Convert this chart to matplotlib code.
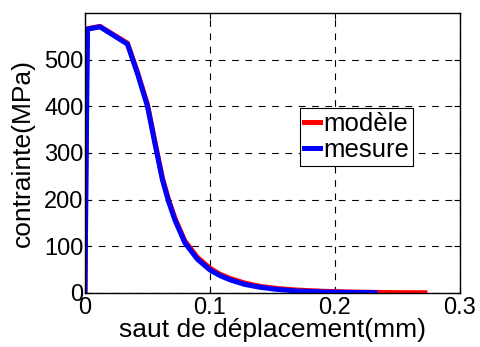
import numpy as np
import matplotlib.pyplot as plt

plt.rcParams['font.family'] = ['Liberation Sans', 'DejaVu Sans']

# courbe mesure (saut en mm, contrainte en MPa)
x_mesure = [0.0, 0.002, 0.012, 0.034, 0.042, 0.050, 0.056, 0.062, 0.067, 0.072,
            0.080, 0.090, 0.100, 0.108, 0.116, 0.128, 0.140, 0.155, 0.170,
            0.190, 0.210, 0.232]
y_mesure = [0.0, 565, 570, 533, 470, 400, 320, 242, 195, 156,
            107, 72, 49, 37, 28, 18, 12, 7, 4,
            2, 1, 0.5]

# courbe modele
x_modele = [0.0, 0.001, 0.002, 0.012, 0.034, 0.042, 0.050, 0.056, 0.062, 0.067,
            0.072, 0.080, 0.090, 0.100, 0.108, 0.116, 0.128, 0.140, 0.155,
            0.170, 0.190, 0.210, 0.232, 0.250, 0.272]
y_modele = [0.0, 420, 566, 571, 535, 473, 404, 324, 246, 199,
            160, 111, 76, 53, 40, 31, 21, 14, 9,
            6, 3.5, 2, 1, 0.5, 0.3]


def plot():
    fig = plt.figure(figsize=(4.8, 3.47), dpi=100)
    ax = fig.add_axes([0.177, 0.156, 0.781, 0.807])
    ax.plot(x_modele, y_modele, '-', color='#ff0000', lw=3.6, label='modèle')
    ax.plot(x_mesure, y_mesure, '-', color='#0000ff', lw=3.6, label='mesure')
    ax.set_xlim(0, 0.3)
    ax.set_ylim(0, 600)
    ax.set_xticks([0, 0.1, 0.2, 0.3])
    ax.set_xticklabels(['0', '0.1', '0.2', '0.3'])
    ax.set_yticks([0, 100, 200, 300, 400, 500])
    ax.grid(True, color='black', linestyle=(0, (6, 6)), linewidth=0.8)
    ax.tick_params(direction='in', top=True, right=True, labelsize=17, length=4)
    ax.tick_params(axis='x', pad=3)
    ax.tick_params(axis='y', pad=1)
    for s in ax.spines.values():
        s.set_linewidth(1.0)
    ax.set_xlabel('saut de déplacement(mm)', fontsize=19, labelpad=-1)
    ax.set_ylabel('contrainte(MPa)', fontsize=19, labelpad=7)
    leg = ax.legend(loc='center', bbox_to_anchor=(0.725, 0.557), fontsize=18.5,
                    handlelength=0.6, handletextpad=0.15, borderpad=0.15,
                    labelspacing=0.1, fancybox=False, framealpha=1,
                    edgecolor='black', borderaxespad=0)
    leg.get_frame().set_linewidth(0.8)
    fig.savefig('out.png', dpi=100)


def main():
    plot()


if __name__ == "__main__":
    main()
